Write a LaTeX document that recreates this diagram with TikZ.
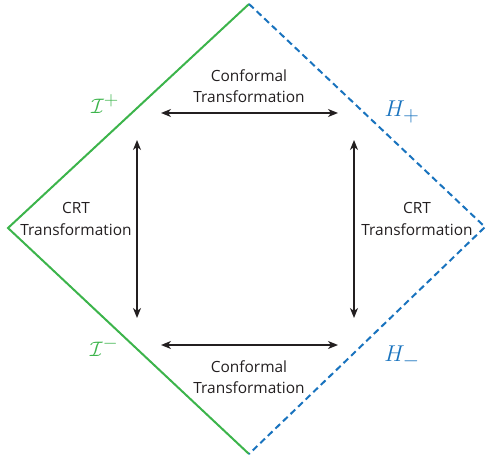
\documentclass[tikz,border=0pt]{standalone}
\usepackage{fix-cm}
\usepackage{fontspec}
\setmainfont{Open Sans}
\usetikzlibrary{arrows.meta}
\definecolor{pgreen}{RGB}{60,180,75}
\definecolor{pblue}{RGB}{25,115,190}
\definecolor{ptext}{RGB}{35,31,32}
\tikzset{
  dbl/.style={line width=1.5bp,ptext,{Stealth[length=10bp,width=8bp,inset=3bp]}-{Stealth[length=10bp,width=8bp,inset=3bp]}},
  nullb/.style={line width=2bp,pgreen},
  horiz/.style={line width=2bp,pblue,dash pattern=on 6.5bp off 4bp},
  lbl/.style={align=center,text=ptext,font=\fontsize{15.5}{21.5}\selectfont,inner sep=0pt},
  glab/.style={text=pgreen,inner sep=0pt,font=\fontsize{21}{21}\selectfont},
  blab/.style={text=pblue,inner sep=0pt,font=\fontsize{23}{23}\selectfont}
}
\begin{document}
\begin{tikzpicture}[x=1bp,y=-1bp]
\useasboundingbox (0,0) rectangle (486,456);
\coordinate (T) at (249,4);
\coordinate (L) at (8,228);
\coordinate (B) at (249,454);
\coordinate (R) at (485,227);
\draw[nullb] (B) -- (L) -- (T);
\draw[horiz] (T) -- (R) -- (B);
\coordinate (a1) at (161,113);
\coordinate (a2) at (338,113);
\coordinate (b1) at (161,345);
\coordinate (b2) at (338,345);
\coordinate (c1) at (137,140);
\coordinate (c2) at (137,318);
\coordinate (d1) at (354,140);
\coordinate (d2) at (354,318);
\draw[dbl] (a1) -- (a2);
\draw[dbl] (b1) -- (b2);
\draw[dbl] (c1) -- (c2);
\draw[dbl] (d1) -- (d2);
\node[lbl] (t1) at (249,86) {Conformal\\Transformation};
\node[lbl] (t2) at (249,377) {Conformal\\Transformation};
\node[lbl] (t3) at (76,219) {CRT\\Transformation};
\node[lbl] (t4) at (417,219) {CRT\\Transformation};
\node[glab] (ip) at (105,104) {$\mathcal{I}^{\scalebox{1.3}{$\scriptstyle+$}}$};
\node[blab] (hp) at (402,112) {$H_{\scalebox{1.3}{$\scriptstyle+$}}$};
\node[glab] (im) at (104,347) {$\mathcal{I}^{\scalebox{1.3}{$\scriptstyle-$}}$};
\node[blab] (hm) at (402,357) {$H_{\scalebox{1.3}{$\scriptstyle-$}}$};
\end{tikzpicture}
\end{document}
